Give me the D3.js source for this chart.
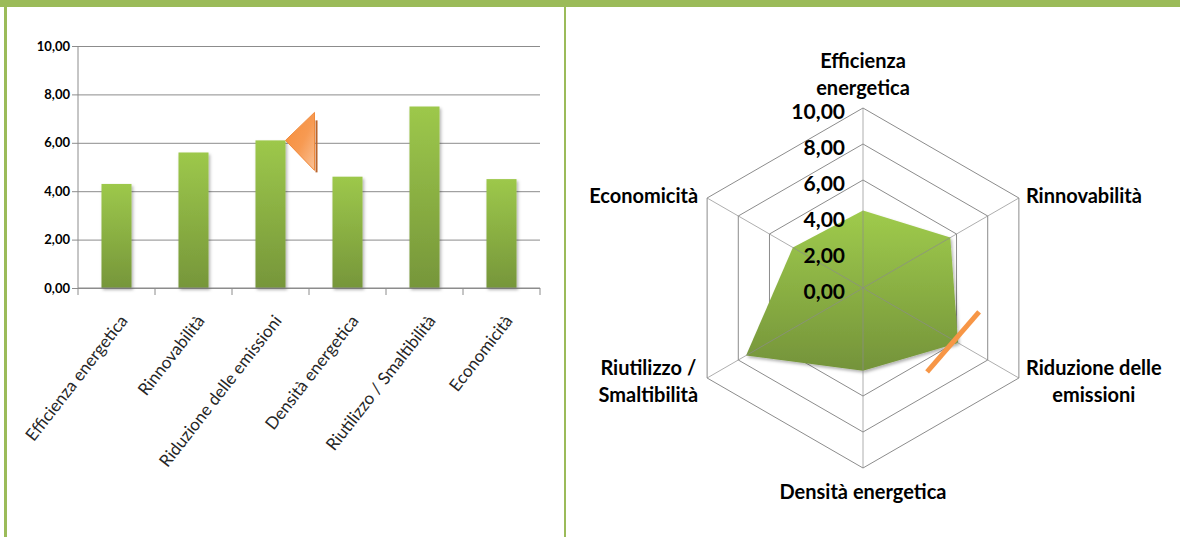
<!DOCTYPE html>
<html>
<head>
<meta charset="utf-8">
<script src="https://cdn.jsdelivr.net/npm/d3@7"></script>
<style>
  html, body { margin: 0; padding: 0; background: #fff; }
  svg { display: block; }
</style>
</head>
<body>
<svg id="chart" width="1180" height="537"></svg>
<script>
// Indicator names and scores (0–10 scale)
const categories = [
  "Efficienza energetica",
  "Rinnovabilità",
  "Riduzione delle emissioni",
  "Densità energetica",
  "Riutilizzo / Smaltibilità",
  "Economicità"
];
const scores = [4.3, 5.6, 6.1, 4.6, 7.5, 4.5];
const tickValues = [0, 2, 4, 6, 8, 10];
// Wrapped labels for the radar
const radarLabels = [
  ["Efficienza", "energetica"],
  ["Rinnovabilità"],
  ["Riduzione delle", "emissioni"],
  ["Densità energetica"],
  ["Riutilizzo /", "Smaltibilità"],
  ["Economicità"]
];
const highlighted = "Riduzione delle emissioni";

const fmt = v => d3.format(".2f")(v).replace(".", ",");
const frameGreen = "#9BBB59";
const gridGray = "#8c8c8c";
const orange = "#F79646";
const font = "Lato, 'Open Sans', sans-serif";

const svg = d3.select("#chart");
const defs = svg.append("defs");

// Gradients and shadow
const barGrad = defs.append("linearGradient").attr("id", "barGrad")
  .attr("x1", 0).attr("y1", 0).attr("x2", 0).attr("y2", 1);
barGrad.append("stop").attr("offset", "0%").attr("stop-color", "#9dc84b");
barGrad.append("stop").attr("offset", "100%").attr("stop-color", "#76963a");

const areaGrad = defs.append("linearGradient").attr("id", "areaGrad")
  .attr("x1", 0).attr("y1", 0).attr("x2", 0).attr("y2", 1);
areaGrad.append("stop").attr("offset", "0%").attr("stop-color", "#9fcb4c");
areaGrad.append("stop").attr("offset", "100%").attr("stop-color", "#74933a");

const triGrad = defs.append("linearGradient").attr("id", "triGrad")
  .attr("x1", 0).attr("y1", 0).attr("x2", 1).attr("y2", 1);
triGrad.append("stop").attr("offset", "0%").attr("stop-color", "#f68c38");
triGrad.append("stop").attr("offset", "55%").attr("stop-color", "#f79a52");
triGrad.append("stop").attr("offset", "100%").attr("stop-color", "#fac196");

const shadow = defs.append("filter").attr("id", "shadow")
  .attr("x", "-20%").attr("y", "-20%").attr("width", "140%").attr("height", "140%");
shadow.append("feDropShadow").attr("dx", 1.5).attr("dy", 2)
  .attr("stdDeviation", 1.5).attr("flood-color", "#000").attr("flood-opacity", 0.3);

// Page frame
svg.append("rect").attr("x", 0).attr("y", 0).attr("width", 1180).attr("height", 7).attr("fill", frameGreen);
svg.append("rect").attr("x", 4).attr("y", 0).attr("width", 3).attr("height", 537).attr("fill", frameGreen);
svg.append("rect").attr("x", 564).attr("y", 0).attr("width", 2).attr("height", 537).attr("fill", frameGreen);

// ---------------- Column chart ----------------
const bar = svg.append("g");
const x = d3.scaleBand().domain(categories).range([78, 540]).paddingInner(0.61).paddingOuter(0.305);
const y = d3.scaleLinear().domain([0, 10]).range([288, 46]);

// Horizontal gridlines with left tick marks
const yAxis = d3.axisLeft(y).tickValues(tickValues).tickFormat(fmt)
  .tickSize(-(540 - 78)).tickPadding(8);
const yg = bar.append("g").attr("transform", "translate(78,0)").call(yAxis);
yg.select(".domain").remove();
yg.selectAll(".tick line").attr("stroke", gridGray).attr("x1", -6);
yg.selectAll(".tick text")
  .attr("font-family", font)
  .attr("font-weight", "bold").attr("font-size", 13).attr("fill", "#000");

// Vertical axis line
bar.append("line").attr("x1", 78).attr("x2", 78).attr("y1", y(10)).attr("y2", y(0))
  .attr("stroke", gridGray);

// Bars
bar.selectAll("rect.bar").data(categories).join("rect")
  .attr("class", "bar")
  .attr("x", d => x(d))
  .attr("width", x.bandwidth())
  .attr("y", (d, i) => y(scores[i]))
  .attr("height", (d, i) => y(0) - y(scores[i]))
  .attr("fill", "url(#barGrad)")
  .attr("filter", "url(#shadow)");

// Category axis with ticks between bars
const step = x.step();
const boundaries = d3.range(categories.length + 1).map(i => 78 + i * step);
const xg = bar.append("g");
xg.append("line").attr("x1", 78).attr("x2", 540).attr("y1", y(0)).attr("y2", y(0)).attr("stroke", gridGray);
xg.selectAll("line.tk").data(boundaries).join("line").attr("class", "tk")
  .attr("x1", d => d).attr("x2", d => d).attr("y1", y(0)).attr("y2", y(0) + 7)
  .attr("stroke", gridGray);
xg.selectAll("text").data(categories).join("text")
  .attr("transform", d => `translate(${x(d) + x.bandwidth() / 2 + 12},${y(0) + 33}) rotate(-52)`)
  .attr("text-anchor", "end")
  .attr("font-family", font)
  .attr("font-size", 17)
  .attr("fill", "#262626")
  .text(d => d);

// Arrow marker pointing at the highlighted bar
const hiIdx = categories.indexOf(highlighted);
const tipX = x(highlighted) + x.bandwidth();
const tipY = y(scores[hiIdx]);
bar.append("line")
  .attr("x1", tipX + 31).attr("x2", tipX + 31)
  .attr("y1", tipY - 20).attr("y2", tipY + 32)
  .attr("stroke", "#b9632a").attr("stroke-width", 2);
bar.append("path")
  .attr("d", `M${tipX},${tipY} L${tipX + 29},${tipY - 28} L${tipX + 29},${tipY + 30} Z`)
  .attr("fill", "url(#triGrad)")
  .attr("stroke", "#f08a3c").attr("stroke-width", 1);

// ---------------- Radar chart ----------------
const cx = 863, cy = 288, R = 180;
const r = d3.scaleLinear().domain([0, 10]).range([0, R]);
const angle = i => -Math.PI / 2 + i * 2 * Math.PI / categories.length;
const pt = (i, v) => [cx + r(v) * Math.cos(angle(i)), cy + r(v) * Math.sin(angle(i))];

const radar = svg.append("g");

// Hexagonal rings
radar.selectAll("path.ring").data(tickValues.slice(1)).join("path")
  .attr("class", "ring")
  .attr("d", v => d3.line()(categories.map((c, i) => pt(i, v))) + "Z")
  .attr("fill", "none").attr("stroke", gridGray).attr("stroke-width", 1);

// Filled area
radar.append("path")
  .attr("d", d3.line()(categories.map((c, i) => pt(i, scores[i]))) + "Z")
  .attr("fill", "url(#areaGrad)")
  .attr("filter", "url(#shadow)");

// Spokes
radar.selectAll("line.spoke").data(categories).join("line")
  .attr("class", "spoke")
  .attr("x1", cx).attr("y1", cy)
  .attr("x2", (d, i) => pt(i, 10)[0]).attr("y2", (d, i) => pt(i, 10)[1])
  .attr("stroke", gridGray).attr("stroke-opacity", 0.7);

// Value labels along the top spoke
radar.selectAll("text.tick").data(tickValues).join("text")
  .attr("class", "tick")
  .attr("x", cx - 18).attr("y", v => cy - r(v) + 4)
  .attr("dy", "0.35em")
  .attr("text-anchor", "end")
  .attr("font-family", font)
  .attr("font-weight", "bold").attr("font-size", 21).attr("fill", "#000")
  .text(fmt);

// Category labels
const lh = 27;
const labelSpecs = categories.map((c, i) => {
  const [vx, vy] = pt(i, 10);
  const a = angle(i);
  const cos = Math.cos(a);
  let anchor, xpos;
  if (Math.abs(cos) < 0.01) { anchor = "middle"; xpos = vx; }
  else if (cos > 0) { anchor = "start"; xpos = vx + 7; }
  else { anchor = "end"; xpos = vx - 9; }
  return { i, vx, vy, a, anchor, xpos, lines: radarLabels[i] };
});
labelSpecs.forEach(s => {
  const t = radar.append("text")
    .attr("font-family", font).attr("font-weight", "bold")
    .attr("font-size", 20).attr("fill", "#000");
  const n = s.lines.length;
  let firstY;
  const sin = Math.sin(s.a);
  if (sin < -0.99) firstY = s.vy - 20 - (n - 1) * lh;       // top
  else if (sin > 0.99) firstY = s.vy + 24;                  // bottom
  else firstY = s.vy + 0.75 + sin * 5.5 - (n - 1) * lh / 2; // sides
  s.lines.forEach((line, k) => {
    t.append("tspan").attr("x", 0).attr("y", firstY + k * lh)
      .attr("dy", "0.35em").attr("text-anchor", "middle").text(line);
  });
  // Align the block as a whole, lines centred within it
  const w = t.node().getBBox().width;
  let centre;
  if (s.anchor === "middle") centre = s.xpos;
  else if (s.anchor === "start") centre = s.xpos + w / 2;
  else centre = s.xpos - w / 2;
  t.attr("transform", `translate(${centre},0)`);
});

// Highlight stroke across the emissions vertex
const [hx, hy] = pt(hiIdx, scores[hiIdx]);
radar.append("line")
  .attr("x1", hx + 21).attr("y1", hy - 31)
  .attr("x2", hx - 31).attr("y2", hy + 29)
  .attr("stroke", orange).attr("stroke-width", 5);
</script>
</body>
</html>
